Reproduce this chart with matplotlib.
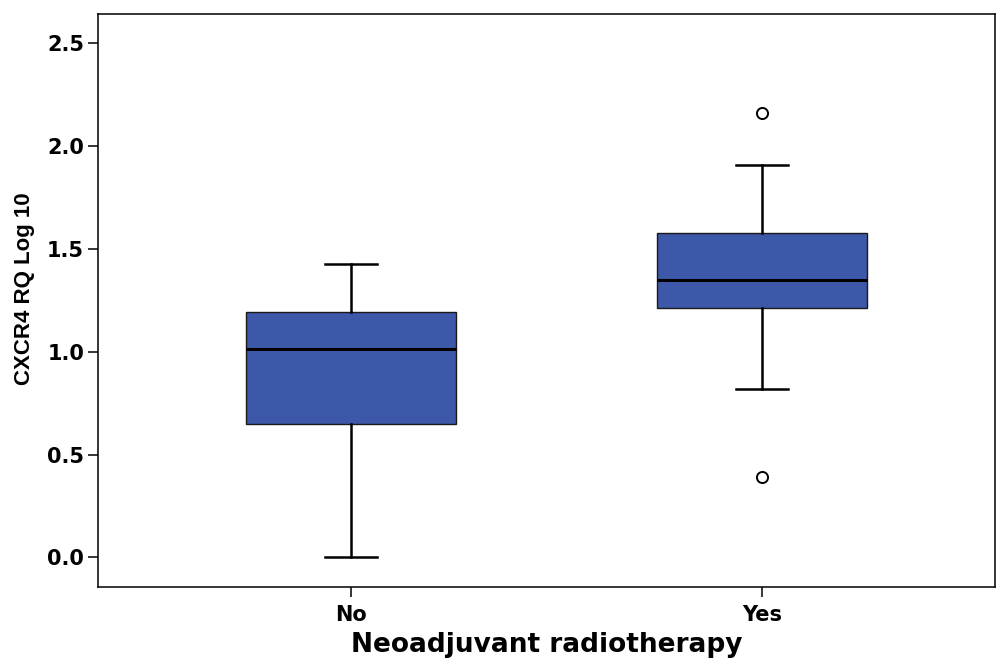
import matplotlib
matplotlib.use("Agg")
import matplotlib.pyplot as plt
from matplotlib import font_manager

# CXCR4 expression by neoadjuvant radiotherapy
groups = ["No", "Yes"]
whislo = [0.00, 0.82]
q1 = [0.650, 1.210]
med = [1.013, 1.349]
q3 = [1.191, 1.575]
whishi = [1.425, 1.906]
fliers = [[], [2.157, 0.392]]

box_color = "#3E58A9"

# condensed face for the y label if it is there
names = {f.name for f in font_manager.fontManager.ttflist}
narrow = "Liberation Sans Narrow" if "Liberation Sans Narrow" in names else "Liberation Sans"

stats = []
for i, g in enumerate(groups):
    stats.append(dict(label=g, whislo=whislo[i], q1=q1[i], med=med[i],
                      q3=q3[i], whishi=whishi[i], fliers=fliers[i]))

fig = plt.figure(figsize=(10.06, 6.62), dpi=100)
ax = fig.add_axes([0.0974, 0.1138, 0.8917, 0.8654])

ax.bxp(stats, positions=[0, 1], widths=0.511, capwidths=0.127,
       patch_artist=True,
       boxprops=dict(facecolor=box_color, edgecolor="#1a1a1a", linewidth=1.0),
       medianprops=dict(color="black", linewidth=2.2),
       whiskerprops=dict(color="black", linewidth=1.8),
       capprops=dict(color="black", linewidth=1.8),
       flierprops=dict(marker="o", markerfacecolor="white", markeredgecolor="black",
                       markersize=8, markeredgewidth=1.4))

ax.set_xlim(-0.615, 1.567)
ax.set_ylim(-0.142, 2.641)
ax.set_yticks([0.0, 0.5, 1.0, 1.5, 2.0, 2.5])
ax.set_yticklabels(["0.0", "0.5", "1.0", "1.5", "2.0", "2.5"])

for s in ax.spines.values():
    s.set_linewidth(1.1)
    s.set_color("black")

ax.tick_params(axis="both", direction="out", length=7, width=1.1, color="black")
ax.tick_params(axis="y", pad=3)
ax.tick_params(axis="x", pad=6)
for lab in ax.get_yticklabels() + ax.get_xticklabels():
    lab.set_fontfamily("DejaVu Sans")
    lab.set_fontweight("bold")
    lab.set_fontsize(15)

ax.set_xlabel("Neoadjuvant radiotherapy", fontfamily="DejaVu Sans",
              fontweight="bold", fontsize=19)
ax.xaxis.label.set_va("baseline")
ax.xaxis.set_label_coords(0.5, -0.114)

ax.set_ylabel("CXCR4 RQ Log 10", fontfamily=narrow, fontweight="bold",
              fontsize=19 if narrow != "Liberation Sans" else 16)
ax.yaxis.label.set_va("center")
ax.yaxis.set_label_coords(-0.0814, 0.5205)

fig.savefig("out.png", dpi=100)
